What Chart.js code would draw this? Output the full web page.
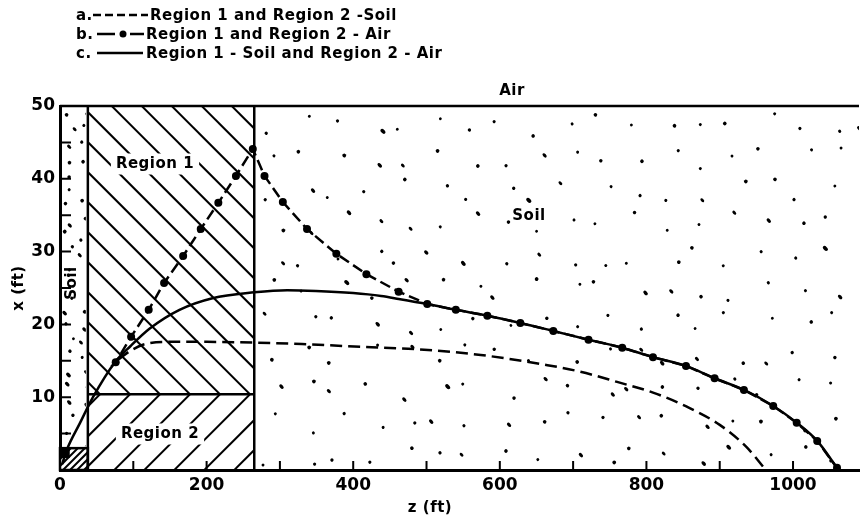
<!DOCTYPE html>
<html>
<head>
<meta charset="utf-8">
<script src="https://cdn.jsdelivr.net/npm/chart.js@4.4.1/dist/chart.umd.min.js"></script>
<style>
  html, body { margin: 0; padding: 0; background: #fff; }
  #wrap { width: 863px; height: 520px; position: relative; }
</style>
</head>
<body>
<div id="wrap"><canvas id="plume"></canvas></div>
<script>
// curve a: Region 1 and Region 2 - Soil (dashed)
const curveA_z = [80, 95, 113, 145, 200, 267, 330, 393, 484, 574, 665, 710, 760, 810, 859, 900, 936, 963];
const curveA_x = [15.2, 16.3, 17.2, 17.6, 17.6, 17.5, 17.3, 17.0, 16.6, 15.8, 14.4, 13.5, 12.1, 10.6, 8.5, 6.2, 3.2, 0];

// curve b: Region 1 and Region 2 - Air (dash with dots)
const curveB_z = [70, 76, 97, 121, 142, 168, 192, 216, 240, 263, 279, 304, 337, 377, 418, 462, 501, 540, 583, 628, 673, 721, 767, 809, 854, 893, 933, 973, 1005, 1033, 1060];
const curveB_x = [14.2, 14.8, 18.3, 22.0, 25.7, 29.4, 33.1, 36.7, 40.4, 44.1, 40.4, 36.8, 33.1, 29.7, 26.9, 24.5, 22.8, 22.0, 21.2, 20.2, 19.1, 17.9, 16.8, 15.5, 14.3, 12.6, 11.0, 8.8, 6.5, 4.0, 0.3];

// curve c: Region 1 - Soil and Region 2 - Air (solid)
const curveC_z = [3, 9, 27, 45, 75, 96, 122, 163, 208, 265, 310, 349, 400, 438, 462, 501, 540, 583, 628, 673, 721, 767, 809, 854, 893, 933, 973, 1005, 1033, 1060];
const curveC_x = [0.8, 2.7, 6.4, 10.0, 14.8, 17.0, 19.4, 22.0, 23.6, 24.4, 24.7, 24.6, 24.3, 23.9, 23.5, 22.8, 22.0, 21.2, 20.2, 19.1, 17.9, 16.8, 15.5, 14.3, 12.6, 11.0, 8.8, 6.5, 4.0, 0.3];

// zones (ft)
const soilStripEnd = 38;   // z where the left soil strip ends
const regionEnd = 265;     // z where regions 1 and 2 end
const regionSplit = 10.4;  // x between region 2 (below) and region 1 (above)
const sourceTop = 3;       // top of the small source box

const zTickLabels = [0, 200, 400, 600, 800, 1000];
const xTickLabels = [10, 20, 30, 40, 50];
const legendRows = [
  ['a.', 'Region 1 and Region 2 -Soil'],
  ['b.', 'Region 1 and Region 2 - Air'],
  ['c.', 'Region 1 - Soil and Region 2 - Air']
];

const FONT = '"DejaVu Sans", sans-serif';
const pts = (zs, xs) => zs.map((z, i) => ({ x: z, y: xs[i] }));

// cheap hash so the stipple is the same every time
const hash = (i, j, k) => {
  const s = Math.sin(i * 12.9898 + j * 78.233 + k * 37.719) * 43758.5453;
  return s - Math.floor(s);
};

function stipple(ctx, x0, y0, x1, y1, cell, seed) {
  ctx.save();
  ctx.beginPath();
  ctx.rect(x0, y0, x1 - x0, y1 - y0);
  ctx.clip();
  ctx.fillStyle = '#000';
  for (let i = 0; x0 + i * cell < x1; i++) {
    for (let j = 0; y0 + j * cell < y1; j++) {
      const px = x0 + (i + 0.15 + 0.7 * hash(i, j, seed)) * cell;
      const py = y0 + (j + 0.15 + 0.7 * hash(j, i, seed + 3)) * cell;
      const r = 1.4 + 0.5 * hash(i, j, seed + 7);
      ctx.beginPath();
      ctx.ellipse(px, py, r * (hash(i, j, seed + 9) > 0.8 ? 1.6 : 1), r, 0.8, 0, Math.PI * 2);
      ctx.fill();
    }
  }
  ctx.restore();
}

function hatch(ctx, x0, y0, x1, y1, dir, c0, step, lw) {
  // dir 1: "\" lines (y - x = c), dir -1: "/" lines (y + x = c)
  ctx.save();
  ctx.beginPath();
  ctx.rect(x0, y0, x1 - x0, y1 - y0);
  ctx.clip();
  ctx.strokeStyle = '#000';
  ctx.lineWidth = lw;
  for (let k = -80; k <= 80; k++) {
    const c = c0 + k * step;
    ctx.beginPath();
    if (dir > 0) {
      ctx.moveTo(x0 - 10, c + x0 - 10);
      ctx.lineTo(x1 + 10, c + x1 + 10);
    } else {
      ctx.moveTo(x0 - 10, c - x0 + 10);
      ctx.lineTo(x1 + 10, c - x1 - 10);
    }
    ctx.stroke();
  }
  ctx.restore();
}

function label(ctx, text, x, y, size, rot, knock) {
  ctx.save();
  ctx.translate(x, y);
  if (rot) ctx.rotate(rot);
  ctx.font = 'bold ' + size + 'px ' + FONT;
  ctx.letterSpacing = '0.5px';
  ctx.textAlign = 'center';
  ctx.textBaseline = 'middle';
  if (knock) {
    const w = ctx.measureText(text).width;
    ctx.fillStyle = '#fff';
    ctx.fillRect(-w / 2 - 5, -size / 2 - 3, w + 10, size + 6);
  }
  ctx.fillStyle = '#000';
  ctx.fillText(text, 0, 0);
  ctx.restore();
}

const zonesPlugin = {
  id: 'zones',
  beforeDatasetsDraw(chart) {
    const { ctx, chartArea: a, scales: { x, y } } = chart;
    const zs = x.getPixelForValue(soilStripEnd);
    const zr = x.getPixelForValue(regionEnd);
    const ys = y.getPixelForValue(regionSplit);
    const yb = y.getPixelForValue(sourceTop);

    // soil stipple
    stipple(ctx, a.left + 2, a.top + 2, zs - 2, yb - 2, 15, 1);
    stipple(ctx, zr + 2, a.top + 2, a.right, a.bottom - 2, 33, 5);

    // hatching in regions 1 and 2 (herringbone meeting at the split line)
    hatch(ctx, zs, a.top, zr, ys, 1, ys - 130, 30, 2);
    hatch(ctx, zs, ys, zr, a.bottom, -1, ys + 130, 30, 2);

    label(ctx, 'Region 1', 155, 164, 15, 0, true);
    label(ctx, 'Region 2', 160, 434, 15, 0, true);

    // small source box
    ctx.save();
    ctx.fillStyle = '#fff';
    ctx.fillRect(a.left, yb, zs - a.left, a.bottom - yb);
    hatch(ctx, a.left, yb, zs, a.bottom, -1, a.bottom, 7, 2);
    ctx.fillStyle = '#000';
    ctx.fillRect(a.left, yb, (zs - a.left) * 0.35, (a.bottom - yb) * 0.45);
    ctx.strokeStyle = '#000';
    ctx.lineWidth = 2.5;
    ctx.strokeRect(a.left, yb, zs - a.left, a.bottom - yb);
    ctx.restore();

    // boundary lines
    ctx.save();
    ctx.strokeStyle = '#000';
    ctx.lineWidth = 2.5;
    ctx.beginPath();
    ctx.moveTo(zs, a.top); ctx.lineTo(zs, a.bottom);
    ctx.moveTo(zr, a.top); ctx.lineTo(zr, a.bottom);
    ctx.moveTo(zs, ys); ctx.lineTo(zr, ys);
    ctx.moveTo(a.left, a.top); ctx.lineTo(a.right, a.top);
    ctx.stroke();

    // inward ticks
    ctx.lineWidth = 2;
    ctx.beginPath();
    for (let v = 100; v <= 1000; v += 100) {
      const px = x.getPixelForValue(v);
      ctx.moveTo(px, a.bottom); ctx.lineTo(px, a.bottom - 9);
    }
    for (let v = 5; v <= 45; v += 5) {
      const py = y.getPixelForValue(v);
      ctx.moveTo(a.left, py); ctx.lineTo(a.left + 11, py);
    }
    ctx.stroke();
    ctx.restore();

    label(ctx, 'Soil', 72, 283, 15, -Math.PI / 2, false);
    label(ctx, 'Soil', 529, 216, 15, 0, false);
    label(ctx, 'Air', 512, 91, 15, 0, false);
  },
  afterDraw(chart) {
    const ctx = chart.ctx;
    label(ctx, 'x (ft)', 19, 288, 15, -Math.PI / 2, false);
    label(ctx, 'z (ft)', 430, 508, 15, 0, false);

    // legend
    ctx.save();
    ctx.font = 'bold 15px ' + FONT;
    ctx.letterSpacing = '0.5px';
    ctx.fillStyle = '#000';
    ctx.strokeStyle = '#000';
    ctx.lineWidth = 2.5;
    ctx.textBaseline = 'alphabetic';
    const base = [20, 39, 58];
    legendRows.forEach((row, i) => {
      const by = base[i];
      const my = by - 5;
      ctx.fillText(row[0], 76, by);
      ctx.beginPath();
      if (i === 0) {
        ctx.setLineDash([8, 4]);
        ctx.moveTo(93, my); ctx.lineTo(148, my);
      } else if (i === 1) {
        ctx.setLineDash([]);
        ctx.moveTo(97, my); ctx.lineTo(115, my);
        ctx.moveTo(130, my); ctx.lineTo(144, my);
      } else {
        ctx.setLineDash([]);
        ctx.moveTo(97, my); ctx.lineTo(143, my);
      }
      ctx.stroke();
      if (i === 1) {
        ctx.beginPath();
        ctx.arc(123, my, 3.5, 0, Math.PI * 2);
        ctx.fill();
      }
      ctx.fillText(row[1], i === 0 ? 150 : 146, by);
    });
    ctx.restore();
  }
};

const ctx = document.getElementById('plume').getContext('2d');
const chart = new Chart(ctx, {
  type: 'scatter',
  data: {
    datasets: [
      {
        label: 'b',
        data: pts(curveB_z, curveB_x),
        showLine: true,
        borderColor: '#000',
        borderWidth: 2.5,
        borderDash: [11, 5],
        tension: 0,
        pointRadius: (c) => (c.dataIndex === 0 ? 0 : 4),
        pointBackgroundColor: '#000',
        pointBorderWidth: 0
      },
      {
        label: 'c',
        data: pts(curveC_z, curveC_x),
        showLine: true,
        borderColor: '#000',
        borderWidth: 2.5,
        cubicInterpolationMode: 'monotone',
        pointRadius: 0
      },
      {
        label: 'a',
        data: pts(curveA_z, curveA_x),
        showLine: true,
        borderColor: '#000',
        borderWidth: 2.5,
        borderDash: [12, 6],
        cubicInterpolationMode: 'monotone',
        pointRadius: 0
      }
    ]
  },
  options: {
    responsive: true,
    maintainAspectRatio: false,
    animation: false,
    layout: { padding: { top: 106, right: 0, bottom: 0, left: 0 } },
    plugins: { legend: { display: false }, tooltip: { enabled: false } },
    scales: {
      x: {
        type: 'linear',
        min: 0,
        max: 1090,
        grid: { display: false, drawTicks: false },
        border: { display: true, color: '#000', width: 3 },
        afterBuildTicks: (s) => { s.ticks = zTickLabels.map((v) => ({ value: v })); },
        afterFit: (s) => { s.height = 50; },
        ticks: {
          autoSkip: false,
          maxRotation: 0,
          padding: 5,
          color: '#000',
          callback: (v) => String(v),
          font: { family: FONT, size: 17, weight: 'bold' }
        }
      },
      y: {
        type: 'linear',
        min: 0,
        max: 50,
        grid: { display: false, drawTicks: false },
        border: { display: true, color: '#000', width: 3 },
        afterBuildTicks: (s) => { s.ticks = xTickLabels.map((v) => ({ value: v })); },
        afterFit: (s) => { s.width = 60; },
        ticks: {
          autoSkip: false,
          padding: 5,
          color: '#000',
          callback: (v) => String(v),
          font: { family: FONT, size: 17, weight: 'bold' }
        }
      }
    }
  },
  plugins: [zonesPlugin]
});
</script>
</body>
</html>
